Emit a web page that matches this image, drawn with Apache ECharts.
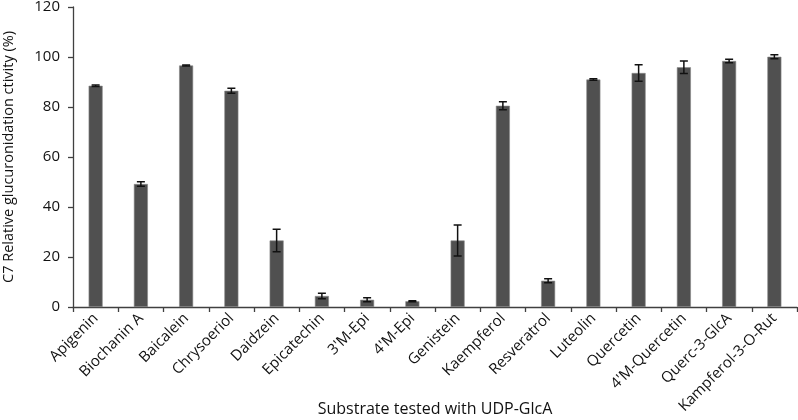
<!DOCTYPE html>
<html><head><meta charset="utf-8">
<script src="https://cdn.jsdelivr.net/npm/echarts@6/dist/echarts.min.js"></script>
<style>html,body{margin:0;padding:0;background:#fff}#c{width:798px;height:420px}</style>
</head><body><div id="c"></div>
<script>
const categories = ['Apigenin','Biochanin A','Baicalein','Chrysoeriol','Daidzein','Epicatechin',"3'M-Epi","4'M-Epi",'Genistein','Kaempferol','Resveratrol','Luteolin','Quercetin',"4'M-Quercetin",'Querc-3-GlcA','Kampferol-3-O-Rut'];
const values = [88.5, 49.2, 96.6, 86.5, 26.6, 4.4, 2.9, 2.3, 26.6, 80.5, 10.5, 91.0, 93.6, 95.9, 98.4, 100.1];
const errors = [0.3, 0.9, 0.2, 1.0, 4.5, 1.1, 0.8, 0.2, 6.2, 1.6, 0.8, 0.3, 3.3, 2.5, 0.7, 0.8];
const yTicks = [0, 20, 40, 60, 80, 100, 120];

const FONT = 'Open Sans';
const chart = echarts.init(document.getElementById('c'), null, {renderer: 'canvas'});
const errData = values.map((v, i) => [i, v - errors[i], v + errors[i]]);
chart.setOption({
  animation: false,
  backgroundColor: '#fff',
  grid: {left: 73, right: 1, top: 7, bottom: 113, containLabel: false, outerBoundsMode: 'none'},
  xAxis: {
    type: 'category', data: categories, boundaryGap: true,
    axisLine: {lineStyle: {color: '#404040', width: 1.3}},
    axisTick: {show: true, length: 5, lineStyle: {color: '#404040', width: 1.3}},
    axisLabel: {rotate: 45, interval: 0, fontFamily: FONT, fontSize: 15, color: '#111', margin: 9},
    name: 'Substrate tested with UDP-GlcA', nameLocation: 'middle', nameGap: 94, nameMoveOverlap: false,
    nameTextStyle: {fontFamily: FONT, fontSize: 16, color: '#111'}
  },
  yAxis: {
    type: 'value', min: yTicks[0], max: yTicks[yTicks.length - 1], interval: 20,
    splitLine: {show: false},
    axisLine: {show: true, lineStyle: {color: '#404040', width: 1.3}},
    axisTick: {show: true, length: 5, lineStyle: {color: '#404040', width: 1.3}},
    axisLabel: {fontFamily: FONT, fontSize: 15, color: '#111', margin: 13},
    name: 'C7 Relative glucuronidation ctivity (%)', nameLocation: 'middle', nameGap: 57, nameMoveOverlap: false,
    nameTextStyle: {fontFamily: FONT, fontSize: 14.5, color: '#111'}
  },
  series: [{
    type: 'bar', data: values, barWidth: 14,
    itemStyle: {color: '#505050', borderColor: '#8a8a8a', borderWidth: 0.6}
  }, {
    type: 'custom', data: errData, z: 10,
    renderItem: function (params, api) {
      const x = api.value(0);
      const lo = api.coord([x, api.value(1)]);
      const hi = api.coord([x, api.value(2)]);
      const hw = 4;
      const st = {stroke: '#111', lineWidth: 1.5};
      return {type: 'group', children: [
        {type: 'line', shape: {x1: lo[0], y1: lo[1], x2: hi[0], y2: hi[1]}, style: st},
        {type: 'line', shape: {x1: lo[0] - hw, y1: lo[1], x2: lo[0] + hw, y2: lo[1]}, style: st},
        {type: 'line', shape: {x1: hi[0] - hw, y1: hi[1], x2: hi[0] + hw, y2: hi[1]}, style: st}
      ]};
    }
  }]
});
</script></body></html>
